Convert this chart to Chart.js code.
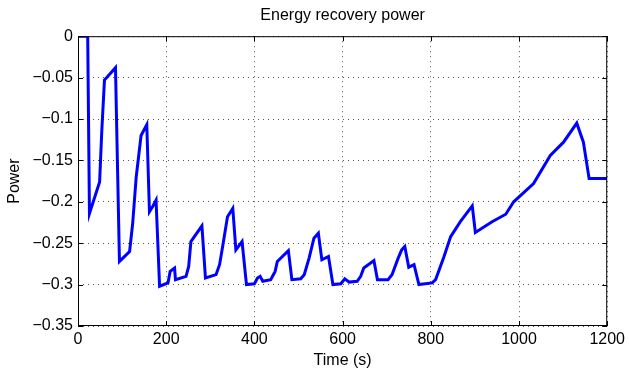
<!DOCTYPE html>
<html>
<head>
<meta charset="utf-8">
<script src="https://cdn.jsdelivr.net/npm/chart.js@4/dist/chart.umd.min.js"></script>
<style>
  html, body { margin: 0; padding: 0; background: #fff; }
  #wrap { width: 629px; height: 374px; }
</style>
</head>
<body>
<div id="wrap"><canvas id="chart--power"></canvas></div>
<script>
// time in seconds, power
const time_s = [
    0, 22, 26, 49, 54, 60, 85, 94, 117, 124, 132, 143, 156, 162, 170, 177,
    185, 204, 209, 219, 221, 245, 251, 256, 281, 289, 313, 321, 328, 339, 351, 358,
    372, 382, 400, 407, 413, 419, 437, 447, 452, 477, 485, 505, 513, 524, 535, 545,
    553, 568, 578, 596, 605, 615, 633, 641, 648, 671, 679, 703, 712, 726, 734, 741,
    750, 762, 773, 803, 811, 830, 845, 867, 894, 901, 939, 970, 988, 1033, 1071, 1101,
    1131, 1146, 1159, 1200
];
const power = [
    0, 0, -0.214, -0.176, -0.114, -0.053, -0.038, -0.272, -0.260, -0.226, -0.170, -0.120, -0.107, -0.212, -0.205, -0.198,
    -0.302, -0.298, -0.284, -0.280, -0.294, -0.290, -0.278, -0.248, -0.229, -0.292, -0.288, -0.276, -0.254, -0.218, -0.208, -0.258,
    -0.248, -0.300, -0.299, -0.292, -0.290, -0.296, -0.294, -0.284, -0.272, -0.259, -0.294, -0.293, -0.288, -0.268, -0.244, -0.238,
    -0.270, -0.266, -0.300, -0.299, -0.293, -0.297, -0.296, -0.290, -0.280, -0.271, -0.294, -0.294, -0.288, -0.268, -0.258, -0.254,
    -0.279, -0.276, -0.300, -0.298, -0.294, -0.266, -0.242, -0.224, -0.205, -0.237, -0.224, -0.215, -0.200, -0.178, -0.144, -0.128,
    -0.105, -0.128, -0.172, -0.172
];
const x_ticks = [0, 200, 400, 600, 800, 1000, 1200];
const y_ticks = [0, -0.05, -0.1, -0.15, -0.2, -0.25, -0.3, -0.35];

const points = time_s.map((t, i) => ({x: t, y: power[i]}));

// box round the plot plus small inward tick marks on every side
const boxPlugin = {
    id: 'box',
    afterDraw(chart) {
        const ctx = chart.ctx;
        const a = chart.chartArea;
        const xs = chart.scales.x, ys = chart.scales.y;
        ctx.save();
        ctx.strokeStyle = '#000';
        ctx.lineWidth = 1;
        ctx.strokeRect(a.left + 0.5, a.top + 0.5, a.right - a.left - 1, a.bottom - a.top - 1);
        ctx.beginPath();
        x_ticks.forEach(v => {
            const px = Math.round(xs.getPixelForValue(v)) + 0.5;
            ctx.moveTo(px, a.bottom); ctx.lineTo(px, a.bottom - 5);
            ctx.moveTo(px, a.top); ctx.lineTo(px, a.top + 5);
        });
        y_ticks.forEach(v => {
            const py = Math.round(ys.getPixelForValue(v)) + 0.5;
            ctx.moveTo(a.left, py); ctx.lineTo(a.left + 5, py);
            ctx.moveTo(a.right, py); ctx.lineTo(a.right - 5, py);
        });
        ctx.stroke();
        ctx.restore();
    }
};

const fontBase = {family: 'Liberation Sans', size: 16};

const config_power = {
    type: 'line',
    data: {
        datasets: [{
            data: points,
            borderColor: '#0000ff',
            borderWidth: 3,
            pointRadius: 0,
            tension: 0,
            fill: false
        }]
    },
    options: {
        responsive: true,
        maintainAspectRatio: false,
        animation: false,
        layout: {
            padding: {left: 0, right: 20, top: 0, bottom: 0}
        },
        plugins: {
            legend: {display: false},
            tooltip: {enabled: false},
            title: {
                display: true,
                fullSize: false,
                text: 'Energy recovery power',
                color: '#000',
                font: {family: 'Liberation Sans', size: 16, weight: 'normal'},
                padding: {top: 6, bottom: 11}
            }
        },
        scales: {
            x: {
                type: 'linear',
                min: 0,
                max: 1200,
                afterBuildTicks(scale) {
                    scale.ticks = x_ticks.map(v => ({value: v}));
                },
                afterFit(scale) {
                    scale.height = 48;
                },
                ticks: {
                    color: '#000',
                    font: fontBase,
                    padding: 4,
                    maxRotation: 0,
                    callback: v => String(v)
                },
                grid: {
                    color: '#555',
                    lineWidth: 1,
                    drawTicks: false,
                    tickLength: 0
                },
                border: {display: false, dash: [1, 4]},
                title: {
                    display: true,
                    text: 'Time (s)',
                    color: '#000',
                    font: fontBase,
                    padding: {top: 0, bottom: 4}
                }
            },
            y: {
                type: 'linear',
                min: -0.35,
                max: 0,
                afterBuildTicks(scale) {
                    scale.ticks = y_ticks.map(v => ({value: v}));
                },
                afterFit(scale) {
                    scale.width = 78;
                },
                ticks: {
                    color: '#000',
                    font: fontBase,
                    padding: 5,
                    callback: v => (v < 0 ? '\u2212' + String(Math.abs(Math.round(v * 100) / 100)) : String(v))
                },
                grid: {
                    color: '#555',
                    lineWidth: 1,
                    drawTicks: false,
                    tickLength: 0
                },
                border: {display: false, dash: [1, 4]},
                title: {
                    display: true,
                    text: 'Power',
                    color: '#000',
                    font: fontBase,
                    padding: {top: 5, bottom: 0}
                }
            }
        }
    },
    plugins: [boxPlugin]
};

var chartpower = new Chart(
    document.getElementById('chart--power'),
    config_power
);
</script>
</body>
</html>
